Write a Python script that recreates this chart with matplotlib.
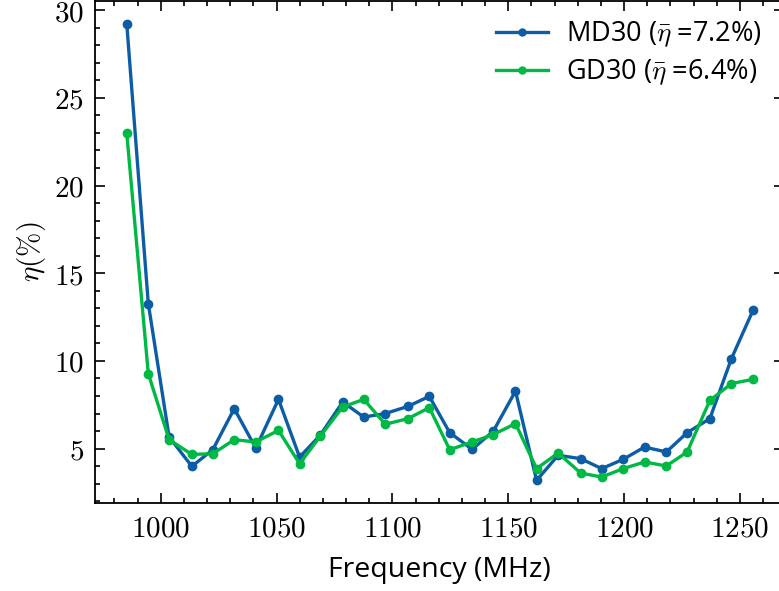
import matplotlib.pyplot as plt
from matplotlib.ticker import FuncFormatter, MultipleLocator

# Efficiency per frequency point for the two designs
freq_mhz = [985.3, 994.6, 1003.6, 1013.4, 1022.5, 1031.7, 1041.0, 1050.8, 1059.9, 1068.8,
            1078.5, 1087.6, 1096.9, 1106.7, 1115.9, 1124.7, 1134.4, 1143.5, 1153.1, 1162.2,
            1171.5, 1181.2, 1190.3, 1199.6, 1208.8, 1218.2, 1227.2, 1237.0, 1246.3, 1255.6]
md30 = [29.23, 13.27, 5.66, 3.99, 4.95, 7.28, 5.03, 7.81, 4.52, 5.76,
        7.66, 6.80, 7.00, 7.41, 7.98, 5.91, 4.96, 5.99, 8.28, 3.19,
        4.62, 4.43, 3.86, 4.39, 5.09, 4.81, 5.91, 6.71, 10.13, 12.88]
gd30 = [22.99, 9.28, 5.51, 4.67, 4.71, 5.51, 5.38, 6.04, 4.14, 5.70,
        7.37, 7.81, 6.39, 6.71, 7.34, 4.94, 5.38, 5.80, 6.43, 3.86,
        4.75, 3.61, 3.38, 3.86, 4.24, 4.01, 4.81, 7.75, 8.71, 8.95]
labels = [r"MD30 ($\bar{\eta}$ =7.2%)", r"GD30 ($\bar{\eta}$ =6.4%)"]

plt.rcParams["mathtext.fontset"] = "cm"
plt.rcParams["font.family"] = ["Open Sans", "DejaVu Sans"]

fig = plt.figure(figsize=(7.79, 5.91), dpi=100)
ax = fig.add_axes([95 / 779, 1 - 503 / 591, (784 - 95) / 779, 502.5 / 591])

ax.plot(freq_mhz, md30, "-o", color="#0C5DA5", lw=2.4, ms=6, label=labels[0])
ax.plot(freq_mhz, gd30, "-o", color="#00B945", lw=2.4, ms=6, label=labels[1])

ax.set_xlim(971.6, 1269.0)
ax.set_ylim(1.9, 30.55)

# science-style ticks: inward on every side, with minor ticks
ax.xaxis.set_major_locator(MultipleLocator(50))
ax.xaxis.set_minor_locator(MultipleLocator(10))
ax.yaxis.set_major_locator(MultipleLocator(5))
ax.yaxis.set_minor_locator(MultipleLocator(1))
ax.tick_params(which="both", direction="in", top=True, right=True, width=1.2)
ax.tick_params(which="major", length=7, labelsize=21, pad=8)
ax.tick_params(which="minor", length=3.5)
fmt = FuncFormatter(lambda v, pos: f"${v:g}$")
ax.xaxis.set_major_formatter(fmt)
ax.yaxis.set_major_formatter(fmt)
for side in ax.spines.values():
    side.set_linewidth(1.3)

ax.set_xlabel("Frequency (MHz)", fontsize=20.5, labelpad=9)
ax.set_ylabel(r"$\eta (\%)$", fontsize=21, labelpad=4)

leg = ax.legend(loc="upper right", bbox_to_anchor=(0.983, 0.984), frameon=False,
                fontsize=19.5, handlelength=1.9, handletextpad=0.67,
                labelspacing=0.3, borderaxespad=0.0)
for h in leg.legend_handles:
    h.set_markersize(5)

fig.savefig("out.png", dpi=100)
